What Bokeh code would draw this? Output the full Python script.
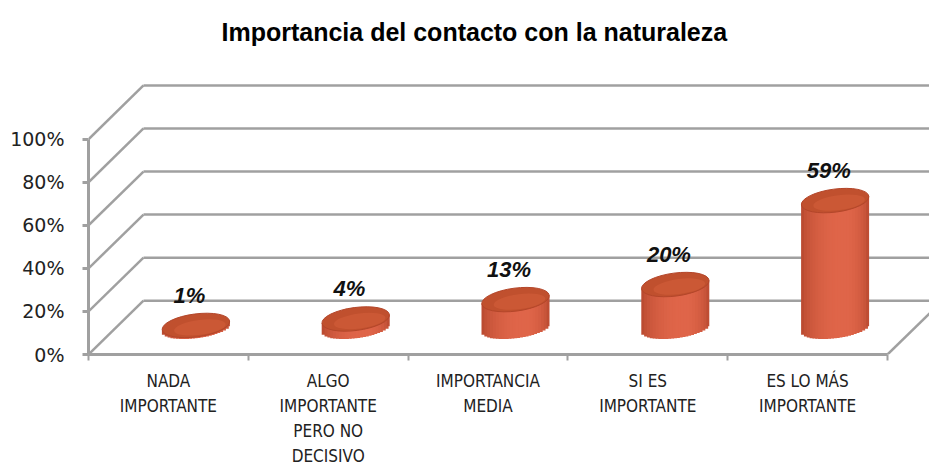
import math
from bokeh.plotting import figure
from bokeh.models import Range1d, FixedTicker, ColumnDataSource
from bokeh.core.properties import value
from bokeh.embed import file_html
from bokeh.resources import INLINE

# ---- data ----
categories = ["NADA\nIMPORTANTE", "ALGO\nIMPORTANTE\nPERO NO\nDECISIVO",
              "IMPORTANCIA\nMEDIA", "SI ES\nIMPORTANTE", "ES LO MÁS\nIMPORTANTE"]
values = [1, 4, 13, 20, 59]
labels = ["1%", "4%", "13%", "20%", "59%"]
y_ticks = [0, 20, 40, 60, 80, 100]

# ---- geometry (styling) ----
W, H = 929, 468
BL, BB, BT = 88, 114, 60
PX_X = 159.8          # px per category unit
PX_Y = 2.16           # px per percent
XMAX = (W - BL) / PX_X
YMAX = (H - BB - BT) / PX_Y
DX = 55 / PX_X        # depth offset in x units
DY = 54 / PX_Y        # depth offset in y units
CYL_W_PX = 68
ELL_H_PX = 23
TILT = 0.13
GRID = "#a0a0a0"

p = figure(width=W, height=H, output_backend="svg", toolbar_location=None,
           x_range=Range1d(0, XMAX), y_range=Range1d(0, YMAX),
           min_border_left=BL, min_border_right=0, min_border_bottom=BB,
           min_border_top=BT, outline_line_color=None,
           title="Importancia del contacto con la naturaleza")
p.title.align = "left"
p.title.offset = 133
p.title.text_font = "Liberation Sans"
p.title.text_font_size = "25px"
p.title.text_font_style = "bold"
p.title.text_color = "#000000"
p.title.standoff = 31
p.xgrid.visible = False
p.ygrid.visible = False

# y axis
ya = p.yaxis[0]
ya.ticker = FixedTicker(ticks=y_ticks)
ya.major_label_overrides = {t: f"{t}%" for t in y_ticks}
ya.bounds = (0, 100)
ya.axis_line_color = GRID
ya.axis_line_width = 3
ya.major_tick_line_color = GRID
ya.major_tick_line_width = 3
ya.major_tick_in = 0
ya.major_tick_out = 6
ya.minor_tick_out = 0
ya.minor_tick_in = 0
ya.major_label_standoff = 18
ya.major_label_text_font = "DejaVu Sans"
ya.major_label_text_font_size = "19px"
ya.major_label_text_color = "#222222"

# x axis
n = len(categories)
xa = p.xaxis[0]
centers = [i + 0.5 for i in range(n)]
xa.ticker = FixedTicker(ticks=centers, minor_ticks=list(range(n + 1)))
xa.major_label_overrides = {c: categories[i] for i, c in enumerate(centers)}
xa.bounds = (0, n)
xa.axis_line_color = GRID
xa.axis_line_width = 3
xa.major_tick_in = 0
xa.major_tick_out = 0
xa.minor_tick_in = 0
xa.minor_tick_out = 6
xa.minor_tick_line_color = GRID
xa.minor_tick_line_width = 2
xa.major_label_standoff = 10
xa.major_label_text_font = "DejaVu Sans Condensed, Roboto"
xa.major_label_text_font_size = "17px"
xa.major_label_text_line_height = 1.25
xa.major_label_text_color = "#222222"

# wall / floor lines
for t in y_ticks:
    p.line([0, DX], [t, t + DY], line_color=GRID, line_width=2.5)
    p.line([DX, XMAX + 1], [t + DY, t + DY], line_color=GRID, line_width=2.5)
p.line([n, n + DX], [0, DY], line_color=GRID, line_width=2.5)

# cylinders
def shade(f):
    edge = (176, 68, 42)
    mid = (224, 102, 74)
    fp = 0.62
    if f < fp:
        k = math.sin(math.pi / 2 * f / fp)
    else:
        k = math.sin(math.pi / 2 * (1 - f) / (1 - fp))
    k = max(0.0, min(1.0, k)) ** 0.5
    c = [int(edge[j] + (mid[j] - edge[j]) * k) for j in range(3)]
    return "#%02x%02x%02x" % tuple(c)

NS = 24
cw = CYL_W_PX / PX_X
half_h = (ELL_H_PX / 2) / PX_Y
tilt_u = math.tan(TILT) * PX_X / PX_Y  # y-units per x-unit
strips = dict(left=[], right=[], top=[], bottom=[], color=[])
tops = dict(x=[], y=[], ix=[], iy=[])
lab = dict(x=[], y=[], text=[])
for i, v in enumerate(values):
    cx = i + 0.5 + DX / 2
    yb = DY / 2
    yt = DY / 2 + v
    for s in range(NS):
        f0, f1 = s / NS, (s + 1) / NS
        fm = (f0 + f1) / 2
        u = (fm - 0.5) * cw
        r = 2 * (fm - 0.5)
        curve = half_h * math.sqrt(max(0.0, 1 - r * r)) * 0.92
        strips["left"].append(cx - cw / 2 + f0 * cw)
        ext = 0.6 / NS * cw if s < NS - 1 else 0.0
        strips["right"].append(cx - cw / 2 + f1 * cw + ext)
        strips["top"].append(yt + u * tilt_u)
        strips["bottom"].append(yb + u * tilt_u - curve)
        strips["color"].append(shade(fm))
    tops["x"].append(cx)
    tops["y"].append(yt)
    tops["ix"].append(cx + 4 / PX_X)
    tops["iy"].append(yt - 2 / PX_Y)
    lab["x"].append(cx - 0.04)
    lab["y"].append(yt + 14)
    lab["text"].append(labels[i])

src_tops = ColumnDataSource(tops)
p.quad(left="left", right="right", top="top", bottom="bottom", color="color",
       line_color=None, source=ColumnDataSource(strips))
p.ellipse(x="x", y="y", width=CYL_W_PX, height=ELL_H_PX, angle=TILT,
          width_units="screen", height_units="screen",
          fill_color="#c0502e", line_color="#b3462a", line_width=1,
          source=src_tops)
p.ellipse(x="ix", y="iy", width=CYL_W_PX - 16, height=ELL_H_PX - 8, angle=TILT,
          width_units="screen", height_units="screen",
          fill_color="#cd5936", fill_alpha=0.85, line_color=None,
          source=src_tops)
p.text(x="x", y="y", text="text", source=ColumnDataSource(lab),
       text_font=value("Liberation Sans"), text_font_style="bold italic",
       text_font_size="22px", text_align="center", text_baseline="middle",
       text_color="#111111")

open("out.html", "w").write(file_html(p, INLINE))
